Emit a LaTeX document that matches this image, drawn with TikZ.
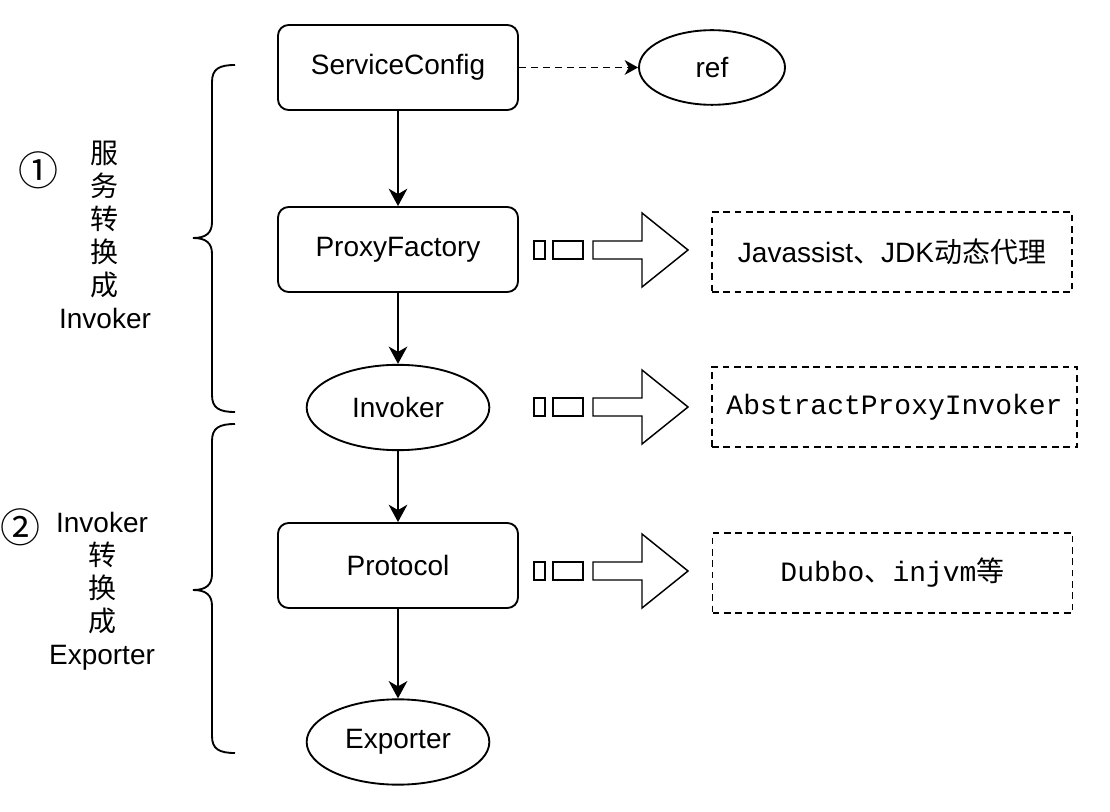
\documentclass[tikz,border=0pt]{standalone}
\usepackage{fontspec}
\setmainfont{Liberation Sans}
\newfontfamily\cjk{Noto Sans CJK SC}
\newfontfamily\codefont{Liberation Mono}
\usetikzlibrary{arrows.meta,shapes.geometric}

\begin{document}
\begin{tikzpicture}[x=0.75pt, y=-0.75pt, line width=1.4pt,
    >={Stealth[length=13pt, width=14pt, inset=4pt]},
    every node/.style={font=\fontsize{21}{24.75}\selectfont},
    stagebox/.style={draw, rectangle, rounded corners=8pt, minimum width=180pt, minimum height=63.75pt},
    stageoval/.style={draw, ellipse, inner sep=0pt, minimum width=137pt, minimum height=64pt},
    implbox/.style={draw, line width=1.3pt, dash pattern=on 5pt off 3.5pt, minimum width=270pt, minimum height=60pt},
    fatarrow/.style={line width=1.1pt},
    circnum/.style={font=\fontsize{30}{30}\selectfont\cjk, inner sep=0pt}]
    \useasboundingbox (0,0) rectangle (1110,812);

    % --- Main chain ---
    \node[stagebox] (sc) at (398, 67.5) {ServiceConfig};
    \node[stageoval, minimum width=109.5pt, minimum height=56pt] (ref) at (712, 67.5) {ref};
    \node[stagebox] (pf) at (398, 249.5) {ProxyFactory};
    \node[stageoval] (inv) at (398, 407.5) {Invoker};
    \node[stagebox] (proto) at (398, 565.5) {Protocol};
    \node[stageoval] (exp) at (398, 742) {Exporter};

    \draw[->, dash pattern=on 5pt off 4pt, >={Stealth[length=10pt, width=11pt, inset=3pt]}] (sc.east) -- (ref.west);
    \draw[->] (sc.south) -- (pf.north);
    \draw[->] (pf.south) -- (inv.north);
    \draw[->] (inv.south) -- (proto.north);
    \draw[->] (proto.south) -- (exp.north);

    % --- Implementations (dashed boxes) ---
    \node[implbox] (impl1) at (892, 252) {Javassist{\cjk 、}JDK{\cjk 动态代理}};
    \node[implbox, minimum width=274pt] (impl2) at (894.5, 407) {\codefont AbstractProxyInvoker};
    \node[implbox] (impl3) at (892.5, 573) {\codefont Dubbo{\cjk 、}injvm{\cjk 等}};

    % --- Hollow arrows pointing at the implementations ---
    \foreach \y in {250, 407, 571} {
        \draw[fatarrow] (534,\y-9) rectangle (545,\y+9);
        \draw[fatarrow] (553,\y-9) rectangle (583,\y+9);
        \draw[fatarrow] (593,\y-9) -- (642,\y-9) -- (642,\y-37) -- (688,\y)
            -- (642,\y+37) -- (642,\y+9) -- (593,\y+9) -- cycle;
    }

    % --- Braces ---
    \draw (235,65) .. controls (219,65) and (212,69) .. (212,82) -- (212,222)
        .. controls (212,233) and (206,238) .. (193,238)
        .. controls (206,238) and (212,243) .. (212,254) -- (212,395)
        .. controls (212,408) and (219,412) .. (235,412);
    \draw (235,424) .. controls (219,424) and (212,428) .. (212,441) -- (212,574)
        .. controls (212,585) and (206,590) .. (193,590)
        .. controls (206,590) and (212,595) .. (212,606) -- (212,736)
        .. controls (212,749) and (219,753) .. (235,753);

    % --- Stage labels ---
    \node[circnum] (num1) at (38, 170) {①};
    \node[align=center, inner sep=0pt] (stage1) at (105, 234.5)
        {{\cjk 服}\\{\cjk 务}\\{\cjk 转}\\{\cjk 换}\\{\cjk 成}\\Invoker};
    \node[circnum] (num2) at (21, 527) {②};
    \node[align=center, inner sep=0pt] (stage2) at (102, 591)
        {Invoker\\{\cjk 转}\\{\cjk 换}\\{\cjk 成}\\Exporter};
\end{tikzpicture}
\end{document}
